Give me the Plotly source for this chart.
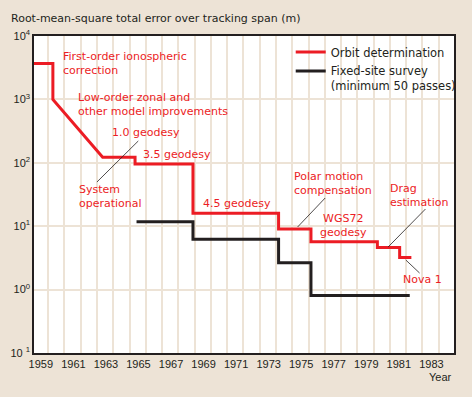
import plotly.graph_objects as go

# ---- data ----
orbit_years = [1958.58, 1959.74, 1959.74, 1962.8, 1964.79, 1964.79, 1968.35, 1968.35,
               1973.61, 1973.61, 1975.6, 1975.6, 1979.68, 1979.68, 1981.05, 1981.05, 1981.77]
orbit_error = [3700, 3700, 1000, 122, 122, 96, 96, 16,
               16, 9.0, 9.0, 5.7, 5.7, 4.6, 4.6, 3.2, 3.2]

survey_years = [1964.88, 1968.35, 1968.35, 1973.61, 1973.61, 1975.6, 1975.6, 1981.67]
survey_error = [11.8, 11.8, 6.2, 6.2, 2.66, 2.66, 0.81, 0.81]

x_tick_years = list(range(1959, 1984, 2))
grid_years = list(range(1959, 1985))
y_tick_vals = [0.1, 1, 10, 100, 1000, 10000]
y_tick_text = ["10 <sup>1</sup>", "10<sup>0</sup>", "10<sup>1</sup>", "10<sup>2</sup>",
               "10<sup>3</sup>", "10<sup>4</sup>"]

RED = "#EC1C24"
BLACK = "#231F20"
BG = "#EDE3D6"
GRID = "#EDE3D6"
TXT_FONT = "DejaVu Sans"
TICK_FONT = "Liberation Sans"

fig = go.Figure()
fig.add_trace(go.Scatter(x=orbit_years, y=orbit_error, mode="lines",
                         line=dict(color=RED, width=3), name="Orbit determination"))
fig.add_trace(go.Scatter(x=survey_years, y=survey_error, mode="lines",
                         line=dict(color=BLACK, width=3),
                         name="Fixed-site survey<br>(minimum 50 passes)"))

GRID_OFFSET = 0.45
fig.update_xaxes(range=[1958.58, 1984.39], tickvals=x_tick_years, ticktext=[str(v) for v in x_tick_years],
                 showgrid=False, ticks="", showline=True, linecolor=BLACK, linewidth=1.5, mirror=True,
                 tickfont=dict(family=TICK_FONT, size=11, color=BLACK), zeroline=False, automargin=False,
                 minor=dict(tickvals=[g + GRID_OFFSET for g in grid_years], showgrid=True,
                            gridcolor=GRID, gridwidth=1.5, ticks=""))
fig.update_yaxes(type="log", range=[-1, 4], tickvals=y_tick_vals, ticktext=y_tick_text,
                 showgrid=True, gridcolor=GRID, gridwidth=1.5, ticks="", automargin=False,
                 showline=True, linecolor=BLACK, linewidth=1.5, mirror=True,
                 tickfont=dict(family=TICK_FONT, size=11, color=BLACK), zeroline=False)

L, R, T, B = 34, 11, 36, 44
PW, PH = 472 - L - R, 397 - T - B


def px(xp):
    return (xp - L) / PW


def py(yp):
    return (397 - B - yp) / PH


def label(text, x, y, color=RED, align="left", xanchor="left", size=11, family=TXT_FONT):
    fig.add_annotation(text=text, x=px(x), y=py(y), xref="paper", yref="paper",
                       xanchor=xanchor, yanchor="middle", align=align, showarrow=False,
                       borderpad=0, font=dict(family=family, size=size, color=color))


def leader(x0, y0, x1, y1):
    fig.add_shape(type="line", xref="paper", yref="paper", x0=px(x0), y0=py(y0), x1=px(x1), y1=py(y1),
                  line=dict(color=BLACK, width=0.8))


label("Root-mean-square total error over tracking span (m)", 10, 19, color=BLACK, size=11)
label("Year", 460, 377, color=BLACK, xanchor="right", family=TICK_FONT, size=11)

label("First-order ionospheric<br>correction", 62, 63)
label("Low-order zonal and<br>other model improvements", 78, 104)
label("1.0 geodesy", 112, 132)
label("3.5 geodesy", 144, 154)
label("System<br>operational", 79, 196)
label("4.5 geodesy", 205, 203)
label("Polar motion<br>compensation", 297, 183)
label("WGS72<br>geodesy", 349, 225, align="center", xanchor="center")
label("Drag<br>estimation", 395, 195)
label("Nova 1", 408, 279)

leader(98, 182, 140, 141)
leader(302, 227, 330, 198)
leader(394, 247, 432, 209)
leader(412, 260, 426, 273)

fig.update_layout(
    width=472, height=397, margin=dict(l=L, r=R, t=T, b=B),
    paper_bgcolor=BG, plot_bgcolor="white",
    showlegend=True,
    legend=dict(x=px(295), y=py(38), xanchor="left", yanchor="top", bgcolor="rgba(0,0,0,0)",
                font=dict(family=TXT_FONT, size=11.5, color=BLACK), valign="top",
                tracegroupgap=3),
)

fig.write_html("out.html", config={"displayModeBar": False},
               post_script="document.body.style.margin='0px';")
